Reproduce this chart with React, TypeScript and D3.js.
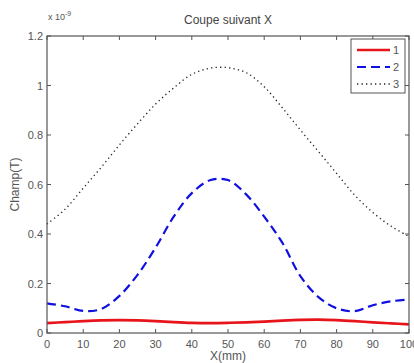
import React from "react";
import * as d3 from "d3";

const xValues = [0, 5, 10, 15, 20, 25, 30, 35, 40, 45, 50, 55, 60, 65, 70, 75, 80, 85, 90, 95, 100];
const series1 = [0.04, 0.044, 0.048, 0.051, 0.052, 0.051, 0.048, 0.044, 0.041, 0.04, 0.041, 0.043, 0.046, 0.05, 0.053, 0.054, 0.052, 0.048, 0.043, 0.039, 0.035];
const series2 = [0.12, 0.108, 0.089, 0.097, 0.15, 0.235, 0.345, 0.47, 0.565, 0.617, 0.618, 0.56, 0.47, 0.365, 0.23, 0.145, 0.1, 0.088, 0.112, 0.128, 0.135];
const series3 = [0.44, 0.5, 0.585, 0.67, 0.76, 0.845, 0.925, 0.99, 1.045, 1.07, 1.072, 1.052, 0.995, 0.91, 0.82, 0.733, 0.645, 0.557, 0.487, 0.432, 0.39];
const seriesNames = ["1", "2", "3"];
const xTicks = [0, 10, 20, 30, 40, 50, 60, 70, 80, 90, 100];
const yTicks = [0, 0.2, 0.4, 0.6, 0.8, 1, 1.2];
const title = "Coupe suivant X";
const xLabel = "X(mm)";
const yLabel = "Champ(T)";

export default function App() {
  const W = 414, H = 363;
  const left = 47, right = 409, top = 36, bottom = 333;
  const x = d3.scaleLinear().domain([0, 100]).range([left, right]);
  const y = d3.scaleLinear().domain([0, 1.2]).range([bottom, top]);
  const line = (vals: number[]) =>
    d3.line<number>().x((_, i) => x(xValues[i])).y((v) => y(v)).curve(d3.curveCatmullRom)(vals) || "";
  const styles = [
    { color: "#e8141c", width: 2.6, dash: undefined as string | undefined },
    { color: "#1010e0", width: 2.2, dash: "9,5" },
    { color: "#222", width: 1.3, dash: "1.3,3.2" },
  ];
  const data = [series1, series2, series3];
  const axisColor = "#555";
  const font = "Liberation Sans, Arial, sans-serif";
  const tl = 4;
  return (
    <svg width={W} height={H} style={{ position: "absolute", left: 0, top: 0, background: "#fff" }}>
      <rect x={0} y={0} width={W} height={H} fill="#fff" />
      {data.map((d, i) => (
        <path key={i} d={line(d)} fill="none" stroke={styles[i].color} strokeWidth={styles[i].width}
          strokeDasharray={styles[i].dash} />
      ))}
      <rect x={left} y={top} width={right - left} height={bottom - top} fill="none" stroke={axisColor} strokeWidth={1.2} />
      {xTicks.map((t) => (
        <g key={"x" + t}>
          <line x1={x(t)} x2={x(t)} y1={bottom} y2={bottom - tl} stroke={axisColor} />
          <line x1={x(t)} x2={x(t)} y1={top} y2={top + tl} stroke={axisColor} />
          <text x={x(t)} y={bottom + 15} fontSize={11} fill="#555" textAnchor="middle" fontFamily={font}>{t}</text>
        </g>
      ))}
      {yTicks.map((t) => (
        <g key={"y" + t}>
          <line x1={left} x2={left + tl} y1={y(t)} y2={y(t)} stroke={axisColor} />
          <line x1={right} x2={right - tl} y1={y(t)} y2={y(t)} stroke={axisColor} />
          <text x={left - 4} y={y(t) + 4} fontSize={11} fill="#555" textAnchor="end" fontFamily={font}>{t}</text>
        </g>
      ))}
      <text x={48} y={20} fontSize={9} fill="#555" fontFamily={font}>x 10<tspan dy={-4} fontSize={7}>-9</tspan></text>
      <text x={228} y={24} fontSize={12} fill="#444" textAnchor="middle" fontFamily={font}>{title}</text>
      <text x={228} y={360} fontSize={12} fill="#555" textAnchor="middle" fontFamily={font}>{xLabel}</text>
      <text transform={`translate(19,${(top + bottom) / 2}) rotate(-90)`} fontSize={12} fill="#555" textAnchor="middle" fontFamily={font}>{yLabel}</text>
      <g>
        <rect x={351} y={39} width={54} height={54} fill="#fff" stroke={axisColor} strokeWidth={1} />
        {seriesNames.map((n, i) => (
          <g key={n}>
            <line x1={357} x2={390} y1={50 + i * 17} y2={50 + i * 17} stroke={styles[i].color}
              strokeWidth={styles[i].width} strokeDasharray={styles[i].dash} />
            <text x={393} y={54 + i * 17} fontSize={11} fill="#555" fontFamily={font}>{n}</text>
          </g>
        ))}
      </g>
    </svg>
  );
}
